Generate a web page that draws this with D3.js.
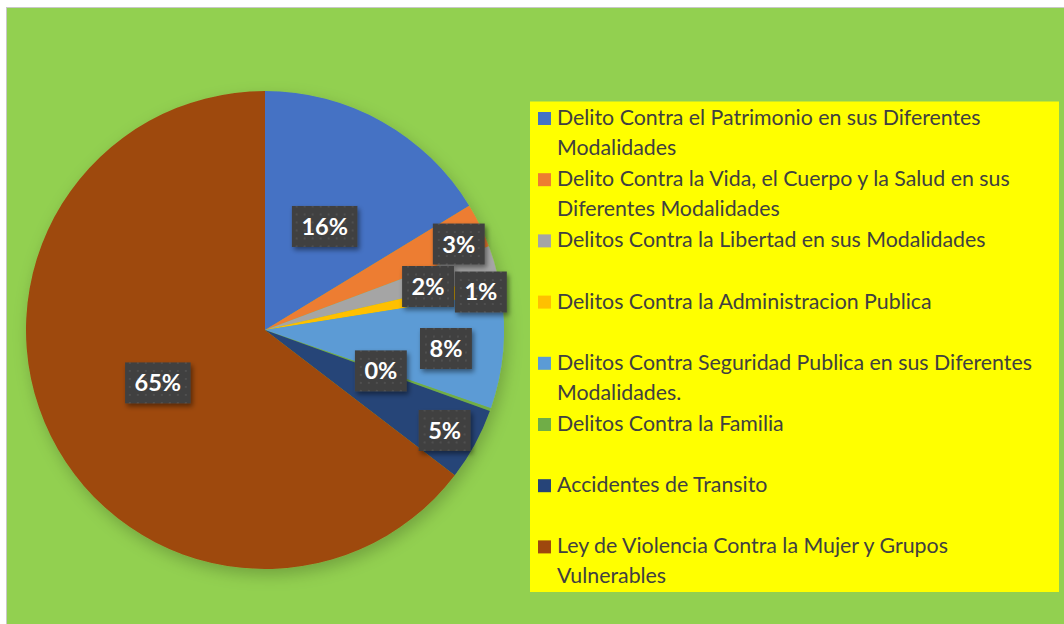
<!DOCTYPE html>
<html>
<head>
<meta charset="utf-8">
<script src="https://cdn.jsdelivr.net/npm/d3@7"></script>
<style>
  html, body { margin: 0; padding: 0; background: #fff; }
  svg { display: block; }
</style>
</head>
<body>
<svg id="svg" width="1064" height="624"></svg>
<script>
// chart data
const categories = [
    ["Delito Contra el Patrimonio en sus Diferentes", "Modalidades"],
    ["Delito Contra la Vida, el Cuerpo y la Salud en sus", "Diferentes Modalidades"],
    ["Delitos Contra la Libertad en sus Modalidades"],
    ["Delitos Contra la Administracion Publica"],
    ["Delitos Contra Seguridad Publica en sus Diferentes", "Modalidades."],
    ["Delitos Contra la Familia"],
    ["Accidentes de Transito"],
    ["Ley de Violencia Contra la Mujer y Grupos", "Vulnerables"]
];
const shares = [16.3, 3.0, 2.1, 1.1, 7.8, 0.2, 4.9, 64.6];
const sliceColors = ["#4472C4", "#ED7D31", "#A5A5A5", "#FFC000", "#5B9BD5", "#70AD47", "#264478", "#9E480E"];

// layout (label placement like excel's best fit)
const labelRadius = [0.50, 0.887, 0.706, 0.917, 0.761, 0.514, 0.861, 0.50];
const labelShift = [0.6, 2, 1.8, 1, 0.8, 0, 0.6, 0]; // degrees

const dims = { width: 1064, height: 624 };
const pie = { cx: 265, cy: 330, r: 239 };
const legend = { x: 530, y: 101.5, w: 529, h: 490.5, first: 125, step: 61.2, lineH: 30 };

let mySvg = d3.select('#svg');
let defs = mySvg.append("defs");

// soft shadow for the pie and labels
let sh = defs.append("filter").attr("id", "pieShadow")
    .attr("x", "-20%").attr("y", "-20%").attr("width", "140%").attr("height", "140%");
sh.append("feDropShadow").attr("dx", 3).attr("dy", 6).attr("stdDeviation", 8)
    .attr("flood-color", "#000").attr("flood-opacity", 0.22);

let lsh = defs.append("filter").attr("id", "lblShadow")
    .attr("x", "-30%").attr("y", "-30%").attr("width", "160%").attr("height", "160%");
lsh.append("feDropShadow").attr("dx", 2).attr("dy", 3).attr("stdDeviation", 2.5)
    .attr("flood-color", "#000").attr("flood-opacity", 0.45);

// dotted fill of the data labels
let pat = defs.append("pattern").attr("id", "dots")
    .attr("width", 8).attr("height", 8).attr("patternUnits", "userSpaceOnUse");
pat.append("rect").attr("width", 8).attr("height", 8).attr("fill", "#404040");
pat.append("circle").attr("cx", 4).attr("cy", 4).attr("r", 1).attr("fill", "#545454");

// chart area
mySvg.append("rect")
    .attr("x", 6.5).attr("y", 7.5)
    .attr("width", dims.width).attr("height", dims.height)
    .attr("fill", "#92D050")
    .attr("stroke", "#c8c8c8").attr("stroke-width", 1);

// PIE
const total = d3.sum(shares);
let arcs = d3.pie().sort(null).value(d => d)(shares);
let arcGen = d3.arc().innerRadius(0).outerRadius(pie.r);

let g = mySvg.append("g").attr("transform", `translate(${pie.cx}, ${pie.cy})`);
g.append("g").attr("filter", "url(#pieShadow)")
    .selectAll("path")
    .data(arcs)
    .enter().append("path")
    .attr("d", arcGen)
    .attr("fill", (d, i) => sliceColors[i]);

// data labels
let fmt = d3.format(".0%");
let labels = g.selectAll("g.lbl")
    .data(arcs)
    .enter().append("g")
    .attr("class", "lbl")
    .attr("transform", (d, i) => {
        let a = (d.startAngle + d.endAngle) / 2 + labelShift[i] * Math.PI / 180;
        let rr = labelRadius[i] * pie.r;
        return `translate(${rr * Math.sin(a)}, ${-rr * Math.cos(a)})`;
    });

labels.append("text")
    .attr("text-anchor", "middle")
    .attr("dy", "0.36em")
    .attr("font-family", "Lato, 'Open Sans', sans-serif")
    .attr("font-weight", "bold")
    .attr("font-size", 23.5)
    .attr("fill", "#fff")
    .text(d => fmt(d.value / total));

labels.each(function () {
    let el = d3.select(this);
    let w = el.select("text").node().getComputedTextLength();
    let bw = w + 19, bh = 41;
    el.insert("rect", "text")
        .attr("x", -bw / 2).attr("y", -bh / 2)
        .attr("width", bw).attr("height", bh)
        .attr("fill", "url(#dots)")
        .attr("filter", "url(#lblShadow)");
});

// LEGEND
mySvg.append("rect")
    .attr("x", legend.x).attr("y", legend.y)
    .attr("width", legend.w).attr("height", legend.h)
    .attr("fill", "#FFFF00");

let yLeg = d3.scaleLinear().domain([0, 1]).range([legend.first, legend.first + legend.step]);

let items = mySvg.append("g").selectAll("g")
    .data(categories)
    .enter().append("g")
    .attr("transform", (d, i) => `translate(${legend.x}, ${yLeg(i)})`);

items.append("rect")
    .attr("x", 8).attr("y", -13)
    .attr("width", 13).attr("height", 13)
    .attr("fill", (d, i) => sliceColors[i]);

let txt = items.append("text")
    .attr("font-family", "Lato, 'Open Sans', sans-serif")
    .attr("font-size", 20)
    .attr("fill", "#404040");

txt.selectAll("tspan")
    .data(d => d)
    .enter().append("tspan")
    .attr("x", 27)
    .attr("y", (d, j) => j * legend.lineH)
    .text(d => d);

// fit font so the widest line matches the original width (475px)
let widest = d3.max(txt.selectAll("tspan").nodes(), n => n.getComputedTextLength());
txt.attr("font-size", 20 * 475 / widest);
</script>
</body>
</html>
